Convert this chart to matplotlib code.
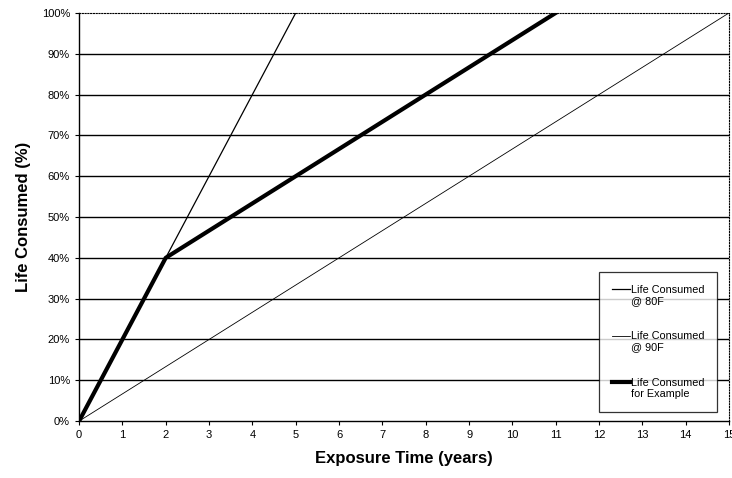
import numpy as np
import matplotlib.pyplot as plt
from matplotlib.ticker import PercentFormatter

plt.rcParams['font.family'] = ['Liberation Sans', 'DejaVu Sans']

# data (years, fraction of life consumed)
years_hot = [0, 5]
life_hot = [0, 100]
years_cool = [0, 15]
life_cool = [0, 100]
years_example = [0, 2, 11]
life_example = [0, 40, 100]

x_ticks = list(range(0, 16))
y_ticks = list(range(0, 101, 10))

fig = plt.figure(figsize=(7.32, 4.78), dpi=100)
ax = fig.add_axes([0.108, 0.119, 0.888, 0.854])

for y in y_ticks[1:-1]:
    ax.axhline(y, color="black", lw=1.0, zorder=1)

ax.plot(years_hot, life_hot, color="black", lw=0.9, label="Life Consumed\n@ 80F", zorder=3)
ax.plot(years_cool, life_cool, color="black", lw=0.6, label="Life Consumed\n@ 90F", zorder=3)
ax.plot(years_example, life_example, color="black", lw=3.0, label="Life Consumed\nfor Example", zorder=4)

ax.set_xlim(0, 15)
ax.set_ylim(0, 100)
ax.set_xticks(x_ticks)
ax.set_yticks(y_ticks)
ax.yaxis.set_major_formatter(PercentFormatter(decimals=0))
ax.tick_params(labelsize=8, length=3, width=0.8, direction="out")

for side in ["top", "right"]:
    ax.spines[side].set_linestyle((0, (1, 1.5)))
    ax.spines[side].set_linewidth(0.8)
ax.spines["left"].set_linewidth(1.0)
ax.spines["bottom"].set_linewidth(1.0)

ax.set_xlabel("Exposure Time (years)", fontsize=12, fontweight="bold", labelpad=8)
ax.set_ylabel("Life Consumed (%)", fontsize=12, fontweight="bold", labelpad=8)

leg = ax.legend(loc="lower right", bbox_to_anchor=(0.982, 0.022), fontsize=7.8,
                frameon=True, fancybox=False, edgecolor="black",
                handlelength=1.6, handletextpad=0.1, labelspacing=2.3,
                borderpad=1.2, borderaxespad=0)
leg.get_frame().set_linewidth(0.9)
# align the handles with the first line of each label
for line in leg.get_lines():
    line.set_ydata(np.asarray(line.get_ydata()) + 4.5)

fig.savefig("out.png", dpi=100)
